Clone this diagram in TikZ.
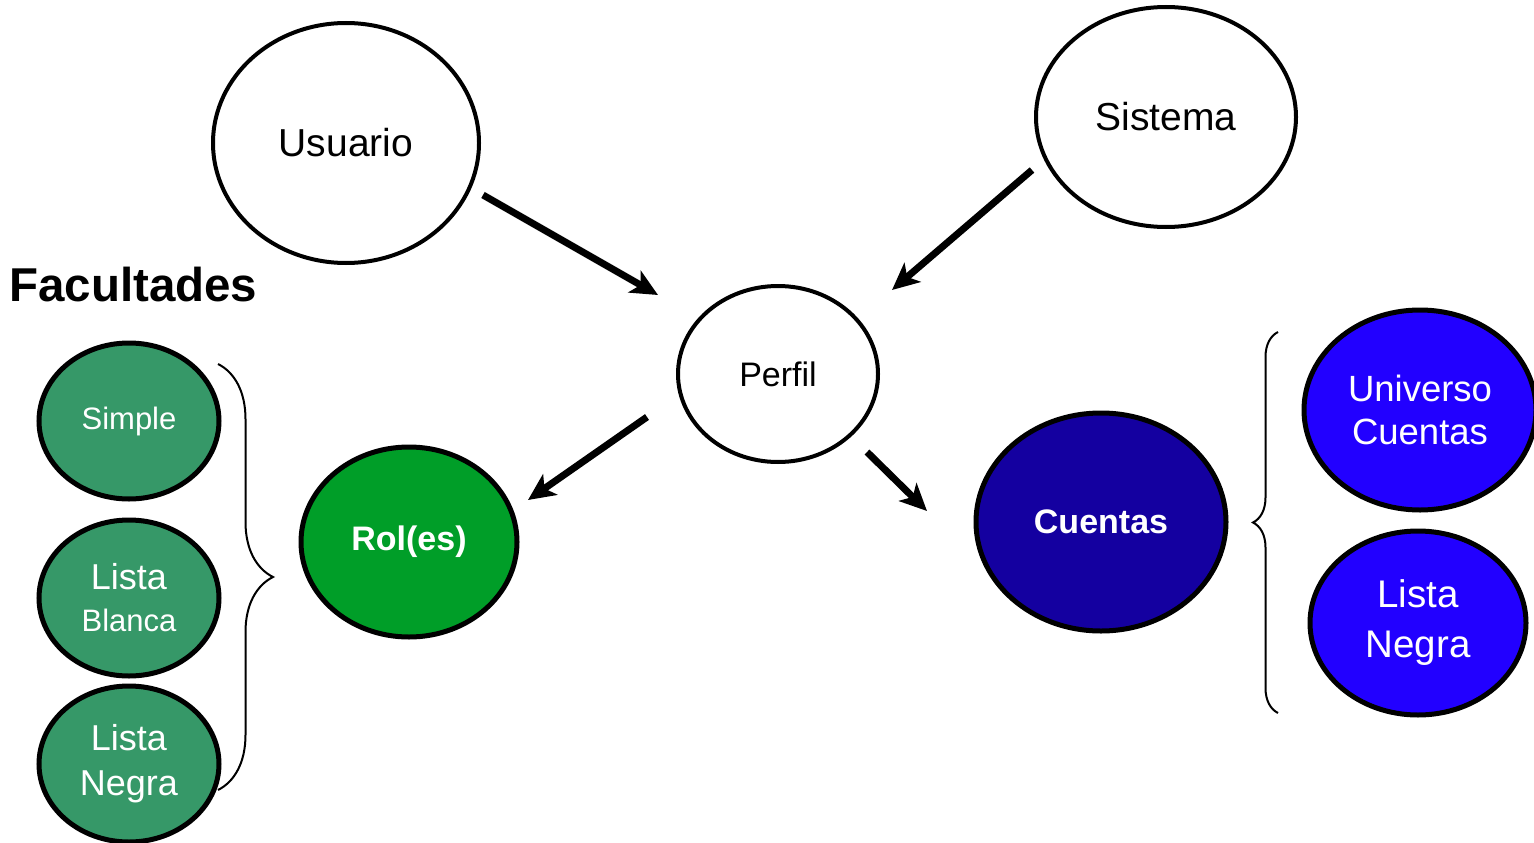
\documentclass[tikz,border=0pt]{standalone}
\usepackage{fontspec}
\setmainfont{Liberation Sans}
\usetikzlibrary{shapes.geometric,arrows.meta,decorations.pathreplacing}
\definecolor{facgreen}{RGB}{54,152,104}
\definecolor{rolgreen}{RGB}{0,158,40}
\definecolor{ctadark}{RGB}{20,0,160}
\definecolor{ctablue}{RGB}{34,0,255}

\begin{document}
\begin{tikzpicture}[x=1pt,y=-1pt,
    bub/.style={ellipse,draw,line width=5pt,inner sep=0pt,align=center},
    fac/.style={bub,fill=facgreen,text=white,minimum width=180pt,minimum height=156pt},
    cta/.style={bub,fill=ctablue,text=white},
    flecha/.style={line width=7pt,-{Stealth[length=27pt,width=25pt,inset=7pt]}},
    llave/.style={decorate,decoration={brace,amplitude=#1},line width=2pt}]
      \useasboundingbox (0,0) rectangle (1534,843);
      \node[bub,line width=4pt,minimum width=266pt,minimum height=240pt,font=\fontsize{39}{46}\selectfont] (usuario) at (346,143) {Usuario};
      \node[bub,line width=4pt,minimum width=260pt,minimum height=220pt,font=\fontsize{39}{46}\selectfont] (sistema) at (1166,117) {Sistema};
      \node[bub,line width=4pt,minimum width=200pt,minimum height=176pt,font=\fontsize{34}{40}\selectfont] (perfil) at (778,374) {Perfil};
      \node[bub,fill=rolgreen,text=white,minimum width=216pt,minimum height=190pt,font=\bfseries\fontsize{34}{40}\selectfont] (roles) at (409,542) {Rol(es)};
      \node[bub,fill=ctadark,text=white,minimum width=250pt,minimum height=218pt,font=\bfseries\fontsize{34}{40}\selectfont] (cuentas) at (1101,522) {Cuentas};
      % facultades
      \node[anchor=west,inner sep=0pt,font=\bfseries\fontsize{47.5}{57}\selectfont] (facultades) at (9,285) {Facultades};
      \node[fac,font=\fontsize{31}{37}\selectfont] (simple) at (129,421) {Simple};
      \node[fac,below of=simple,node distance=177pt,font=\fontsize{36}{42}\selectfont] (blanca) {Lista\\{\fontsize{31}{37}\selectfont Blanca}};
      \node[fac,below of=blanca,node distance=166pt,font=\fontsize{36}{45}\selectfont] (negraf) {Lista\\Negra};
      % cuentas
      \node[cta,minimum width=232pt,minimum height=200pt,font=\fontsize{36.5}{43}\selectfont] (universo) at (1420,410) {Universo\\Cuentas};
      \node[cta,below of=universo,node distance=213pt,xshift=-2pt,minimum width=216pt,minimum height=184pt,font=\fontsize{38.5}{50}\selectfont] (negrac) {Lista\\Negra};
      \draw[flecha] ([shift={(137,52)}]usuario.center) -- ([shift={(-120,-79)}]perfil.center);
      \draw[flecha] ([shift={(-134,53)}]sistema.center) -- ([shift={(114,-84)}]perfil.center);
      \draw[flecha] ([shift={(-131,43)}]perfil.center) -- ([shift={(119,-42)}]roles.center);
      \draw[flecha] ([shift={(89,78)}]perfil.center) -- ([shift={(-174,-11)}]cuentas.center);
      \coordinate (fa) at (218,364);
      \coordinate (fb) at (218,790);
      \coordinate (ca) at (1278,713);
      \coordinate (cb) at (1278,332);
      \draw[llave=55pt] (fa) -- (fb);
      \draw[llave=25pt] (ca) -- (cb);
    \end{tikzpicture}
\end{document}
